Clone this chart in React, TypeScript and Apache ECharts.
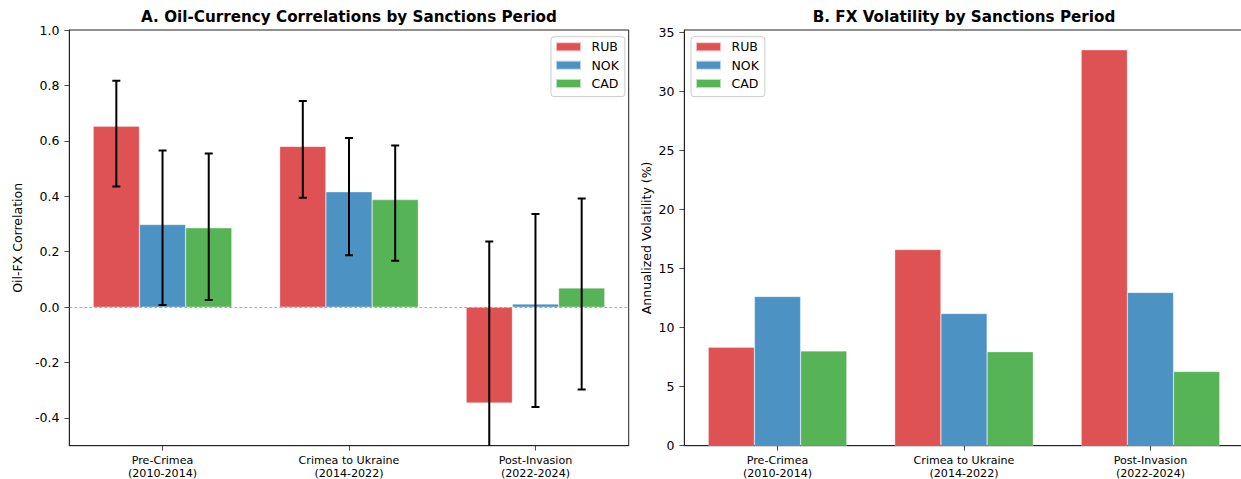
import React, { useEffect, useRef } from "react";
import * as echarts from "echarts";

const categories = ["Pre-Crimea\n(2010-2014)", "Crimea to Ukraine\n(2014-2022)", "Post-Invasion\n(2022-2024)"];
const currencies = ["RUB", "NOK", "CAD"];
const colors = ["#de5253", "#4c92c3", "#56b356"];

// Panel A: oil-FX correlations and confidence bounds
const corrRUB = [0.653, 0.58, -0.346];
const corrNOK = [0.298, 0.416, 0.011];
const corrCAD = [0.286, 0.388, 0.069];
const ciLowRUB = [0.435, 0.395, -0.75];
const ciHighRUB = [0.817, 0.744, 0.237];
const ciLowNOK = [0.008, 0.187, -0.36];
const ciHighNOK = [0.565, 0.61, 0.336];
const ciLowCAD = [0.026, 0.167, -0.297];
const ciHighCAD = [0.554, 0.583, 0.392];

// Panel B: annualized volatility (%)
const volRUB = [8.33, 16.6, 33.5];
const volNOK = [12.63, 11.18, 12.97];
const volCAD = [8.02, 7.95, 6.28];

const corrTicks = [-0.4, -0.2, 0.0, 0.2, 0.4, 0.6, 0.8, 1.0];
const volTicks = [0, 5, 10, 15, 20, 25, 30, 35];

const FONT = "DejaVu Sans";
const BAR_W = 46.2;

export default function App() {
  const ref = useRef<HTMLDivElement>(null);
  useEffect(() => {
    if (!ref.current) return;
    const chart = echarts.init(ref.current, undefined, { renderer: "svg" });
    const corr = [corrRUB, corrNOK, corrCAD];
    const lows = [ciLowRUB, ciLowNOK, ciLowCAD];
    const highs = [ciHighRUB, ciHighNOK, ciHighCAD];
    const vol = [volRUB, volNOK, volCAD];

    const axisLineStyle = { color: "#222", width: 1 };
    const xAxisCommon = (gi: number) => ({
      type: "category",
      gridIndex: gi,
      data: categories,
      axisLine: { show: true, lineStyle: axisLineStyle, onZero: false },
      axisTick: { show: true, alignWithLabel: true, length: 4.9, lineStyle: { color: "#222", width: 0.8 } },
      axisLabel: { interval: 0, fontSize: 11.1, lineHeight: 12.3, color: "#000", fontFamily: FONT, margin: 9 },
      splitLine: { show: false },
    });

    const legendCommon = (left: number) => ({
      data: currencies,
      orient: "vertical",
      left,
      top: 36.7,
      icon: "rect",
      itemWidth: 25,
      itemHeight: 9,
      itemGap: 0,
      padding: [1, 6, 4, 4],
      backgroundColor: "rgba(255,255,255,0.8)",
      borderColor: "#cccccc",
      borderWidth: 1,
      borderRadius: 3,
      textStyle: { fontSize: 12.5, fontFamily: FONT, color: "#000", lineHeight: 18.3, padding: [0, 0, 0, 5.5] },
      selectedMode: false,
    });

    const series: any[] = [];
    currencies.forEach((name, i) => {
      series.push({
        type: "bar",
        name,
        xAxisIndex: 0,
        yAxisIndex: 0,
        data: corr[i],
        barWidth: BAR_W,
        barGap: "0%",
        itemStyle: { color: colors[i], borderColor: "rgba(255,255,255,0.6)", borderWidth: 0.5 },
        z: 2,
        ...(i === 0
          ? {
              markLine: {
                silent: true,
                symbol: "none",
                label: { show: false },
                lineStyle: { color: "#999", type: [3, 2], width: 0.8 },
                data: [{ yAxis: 0 }],
              },
            }
          : {}),
      });
    });
    currencies.forEach((name, i) => {
      const offset = (i - 1) * BAR_W;
      series.push({
        type: "custom",
        name: name + " CI",
        xAxisIndex: 0,
        yAxisIndex: 0,
        clip: true,
        z: 5,
        data: categories.map((_, k) => [k, lows[i][k], highs[i][k]]),
        encode: { x: 0, y: [1, 2] },
        renderItem: (params: any, api: any) => {
          const xi = api.value(0);
          const lo = api.coord([xi, api.value(1)]);
          const hi = api.coord([xi, api.value(2)]);
          const x = lo[0] + offset;
          const st = { stroke: "#000", lineWidth: 2 };
          return {
            type: "group",
            children: [
              { type: "line", shape: { x1: x, y1: lo[1], x2: x, y2: hi[1] }, style: st },
              { type: "line", shape: { x1: x - 4, y1: hi[1], x2: x + 4, y2: hi[1] }, style: st },
              { type: "line", shape: { x1: x - 4, y1: lo[1], x2: x + 4, y2: lo[1] }, style: st },
            ],
          };
        },
      });
    });
    currencies.forEach((name, i) => {
      series.push({
        type: "bar",
        name,
        xAxisIndex: 1,
        yAxisIndex: 1,
        data: vol[i],
        barWidth: BAR_W,
        barGap: "0%",
        itemStyle: { color: colors[i], borderColor: "rgba(255,255,255,0.6)", borderWidth: 0.5 },
      });
    });

    chart.setOption({
      animation: false,
      textStyle: { fontFamily: FONT },
      grid: [
        { left: 69.3, top: 30, width: 559.4, height: 415.7, show: true, borderColor: "#222", borderWidth: 1, outerBoundsMode: "none" },
        { left: 684.3, top: 30, width: 559.4, height: 415.7, show: true, borderColor: "#222", borderWidth: 1, outerBoundsMode: "none" },
      ],
      xAxis: [xAxisCommon(0), xAxisCommon(1)],
      yAxis: [
        {
          type: "value",
          gridIndex: 0,
          min: -0.5,
          max: 1.0,
          name: "Oil-FX Correlation",
          nameLocation: "middle",
          nameGap: 45,
          nameTextStyle: { fontSize: 12.5, color: "#000", fontFamily: FONT },
          axisLine: { show: true, lineStyle: axisLineStyle },
          axisTick: { show: true, length: 4.9, customValues: corrTicks, lineStyle: { color: "#222", width: 0.8 } },
          axisLabel: {
            customValues: corrTicks,
            fontSize: 12.5,
            color: "#000",
            fontFamily: FONT,
            margin: 9.8,
            formatter: (v: number) => v.toFixed(1),
          },
          splitLine: { show: false },
        },
        {
          type: "value",
          gridIndex: 1,
          min: 0,
          max: 35.18,
          name: "Annualized Volatility (%)",
          nameLocation: "middle",
          nameGap: 31,
          nameTextStyle: { fontSize: 12.5, color: "#000", fontFamily: FONT },
          axisLine: { show: true, lineStyle: axisLineStyle },
          axisTick: { show: true, length: 4.9, customValues: volTicks, lineStyle: { color: "#222", width: 0.8 } },
          axisLabel: {
            customValues: volTicks,
            fontSize: 12.5,
            color: "#000",
            fontFamily: FONT,
            margin: 9.8,
            formatter: (v: number) => String(v),
          },
          splitLine: { show: false },
        },
      ],
      legend: [legendCommon(551), legendCommon(691)],
      graphic: [
        {
          type: "text",
          x: 349,
          y: 17,
          style: {
            text: "A. Oil-Currency Correlations by Sanctions Period",
            font: `bold 15.2px "${FONT}"`,
            fill: "#000",
            textAlign: "center",
            textVerticalAlign: "middle",
          },
        },
        {
          type: "text",
          x: 964,
          y: 17,
          style: {
            text: "B. FX Volatility by Sanctions Period",
            font: `bold 15.2px "${FONT}"`,
            fill: "#000",
            textAlign: "center",
            textVerticalAlign: "middle",
          },
        },
      ],
      series,
    });
    return () => chart.dispose();
  }, []);

  return (
    <div
      ref={ref}
      style={{ position: "fixed", left: 0, top: 0, width: 1241, height: 479, background: "#fff" }}
    />
  );
}
